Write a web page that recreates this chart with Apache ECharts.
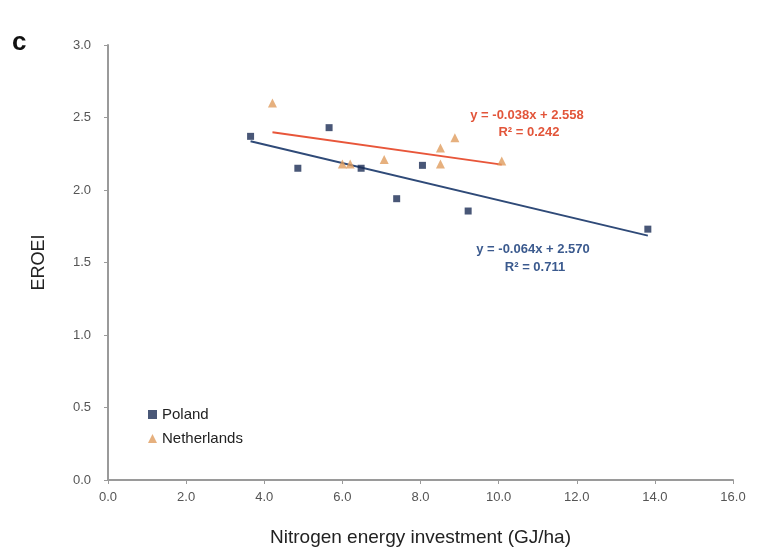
<!DOCTYPE html>
<html><head><meta charset="utf-8">
<script src="https://cdn.jsdelivr.net/npm/echarts@6/dist/echarts.min.js"></script>
<style>html,body{margin:0;padding:0;background:#fff}#c{width:768px;height:552px}</style>
</head><body><div id="c"></div>
<script>
const polandX = [3.65, 4.86, 5.66, 6.48, 7.39, 8.05, 9.22, 13.82];
const polandY = [2.37, 2.15, 2.43, 2.15, 1.94, 2.17, 1.855, 1.73];
const nethX = [4.21, 6.0, 6.2, 7.07, 8.51, 8.51, 8.88, 10.08];
const nethY = [2.60, 2.18, 2.18, 2.21, 2.29, 2.18, 2.36, 2.20];
const polandFit = [-0.064, 2.570];
const nethFit = [-0.038, 2.558];
const xTicks = [0, 2, 4, 6, 8, 10, 12, 14, 16];
const yTicks = [0, 0.5, 1.0, 1.5, 2.0, 2.5, 3.0];

const zip = (xs, ys) => xs.map((x, i) => [x, ys[i]]);
const fitLine = (xs, f) => {
  const a = Math.min(...xs), b = Math.max(...xs);
  return [[a, f[0] * a + f[1]], [b, f[0] * b + f[1]]];
};
const FONT = 'Liberation Sans, Arial, sans-serif';
const chart = echarts.init(document.getElementById('c'));
chart.setOption({
  animation: false,
  grid: { left: 108, right: 35, top: 45, bottom: 70 },
  xAxis: {
    type: 'value', min: xTicks[0], max: xTicks[xTicks.length - 1], interval: 2,
    name: 'Nitrogen energy investment (GJ/ha)', nameLocation: 'middle', nameGap: 48,
    nameTextStyle: { fontFamily: FONT, fontSize: 19, color: '#222' },
    axisLine: { lineStyle: { color: '#9a9a9a', width: 2 } },
    axisTick: { show: true, length: 4, lineStyle: { color: '#9a9a9a' } },
    axisLabel: { fontFamily: FONT, fontSize: 13, color: '#555', margin: 11, formatter: v => v.toFixed(1) },
    splitLine: { show: false }
  },
  yAxis: {
    type: 'value', min: yTicks[0], max: yTicks[yTicks.length - 1], interval: 0.5,
    name: 'EROEI', nameLocation: 'middle', nameGap: 60, nameRotate: 90,
    nameTextStyle: { fontFamily: FONT, fontSize: 18, color: '#222' },
    axisLine: { show: true, lineStyle: { color: '#9a9a9a', width: 2 } },
    axisTick: { show: true, length: 4, lineStyle: { color: '#9a9a9a' } },
    axisLabel: { fontFamily: FONT, fontSize: 13, color: '#555', margin: 17, formatter: v => v.toFixed(1) },
    splitLine: { show: false }
  },
  legend: {
    orient: 'vertical', left: 143, top: 402, itemGap: 9,
    itemWidth: 9, itemHeight: 9,
    textStyle: { fontFamily: FONT, fontSize: 15, color: '#222' },
    data: [{ name: 'Poland', icon: 'rect' }, { name: 'Netherlands', icon: 'triangle' }]
  },
  series: [
    { name: 'Poland', type: 'scatter', symbol: 'rect', symbolSize: 7,
      itemStyle: { color: '#1b2d55' }, data: zip(polandX, polandY), z: 5 },
    { name: 'Netherlands', type: 'scatter', symbol: 'triangle', symbolSize: 9,
      itemStyle: { color: '#e09c5e' }, data: zip(nethX, nethY), z: 5 },
    { name: 'PolandFit', type: 'line', data: fitLine(polandX, polandFit), symbol: 'none',
      lineStyle: { color: '#2f4a78', width: 2 }, z: 3 },
    { name: 'NethFit', type: 'line', data: fitLine(nethX, nethFit), symbol: 'none',
      lineStyle: { color: '#e8563a', width: 2 }, z: 3 }
  ],
  graphic: [
    { type: 'text', left: 12, top: 30, style: { text: 'c', font: 'bold 26px ' + FONT, fill: '#111' } },
    { type: 'text', x: 527, y: 115, style: { text: 'y = -0.038x + 2.558', font: 'bold 13px ' + FONT, fill: '#e2553a', align: 'center', verticalAlign: 'middle' } },
    { type: 'text', x: 529, y: 132, style: { text: 'R² = 0.242', font: 'bold 13px ' + FONT, fill: '#e2553a', align: 'center', verticalAlign: 'middle' } },
    { type: 'text', x: 533, y: 249, style: { text: 'y = -0.064x + 2.570', font: 'bold 13px ' + FONT, fill: '#3b5a8e', align: 'center', verticalAlign: 'middle' } },
    { type: 'text', x: 535, y: 267, style: { text: 'R² = 0.711', font: 'bold 13px ' + FONT, fill: '#3b5a8e', align: 'center', verticalAlign: 'middle' } }
  ]
});
</script></body></html>
